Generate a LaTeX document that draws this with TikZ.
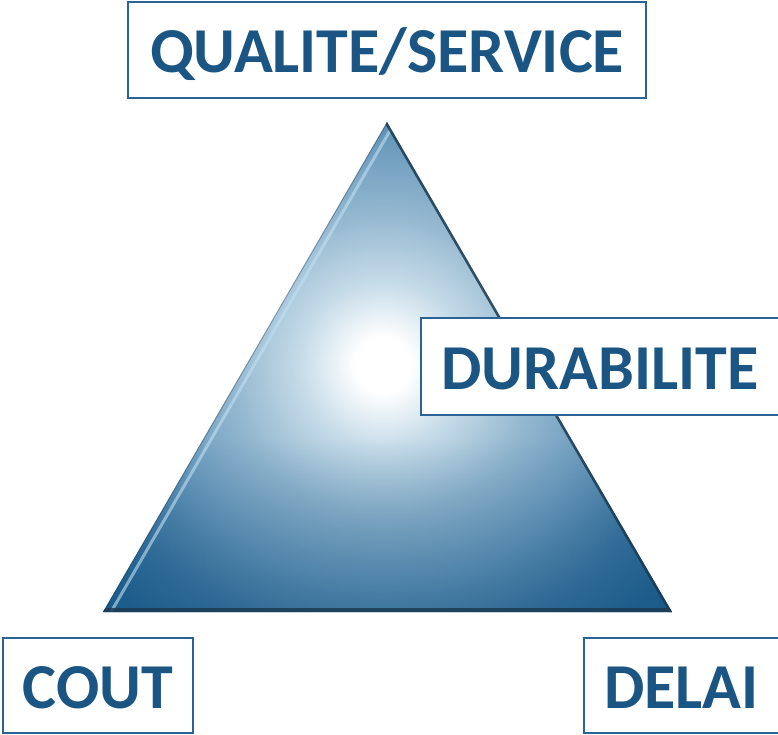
\documentclass[tikz,border=0pt]{standalone}
\usepackage{fontspec}
\setmainfont{Carlito}
\usetikzlibrary{positioning,fadings}
\definecolor{labelblue}{HTML}{1A5583}
\definecolor{frameblue}{HTML}{2B6494}
\definecolor{tridark}{HTML}{1A5885}
\definecolor{triedge}{HTML}{1B3A52}
\definecolor{trihigh}{HTML}{BFE0F5}
\pgfdeclareradialshading{triglow}{\pgfpoint{0bp}{0bp}}{color(0bp)=(white); color(1.8bp)=(white); color(5.5bp)=(rgb,255:red,197;green,219;blue,232); color(10bp)=(rgb,255:red,147;green,183;blue,207); color(14.5bp)=(rgb,255:red,108;green,155;blue,189); color(19bp)=(rgb,255:red,62;green,118;blue,160); color(23bp)=(rgb,255:red,31;green,96;blue,144); color(27bp)=(tridark); color(50bp)=(tridark)}
\tikzset{
  tagbox/.style={draw=frameblue, line width=2pt, fill=white, inner sep=0pt,
    text=labelblue, font=\fontsize{64}{64}\selectfont\bfseries,
    text height=46pt, text depth=0pt},
}
\begin{document}
\begin{tikzpicture}[x=1pt,y=-1pt]
\useasboundingbox (0,0) rectangle (778,735);
% Triangle corners
\coordinate (top) at (387,122);
\coordinate (left) at (103,612);
\coordinate (right) at (672,612);
\coordinate (glow) at (383,365);
% Triangle body
\begin{scope}
 \clip (top) -- (left) -- (right) -- cycle;
 \shade[shading=triglow] (glow) circle (380);
 \fill[tridark, path fading=north, fill opacity=0.45] (100,440) rectangle (675,615);
 % bevel edges
 \draw[triedge, opacity=0.35, line width=2pt] (left) -- (top);
 \draw[trihigh, opacity=0.6, line width=3pt] ([shift={(6,3.5)}]left) -- ([shift={(6,3.5)}]top);
 \draw[triedge, opacity=0.85, line width=5pt] (top) -- (right);
 \draw[triedge, opacity=0.85, line width=8pt] (right) -- (left);
 \draw[trihigh, opacity=0.3, line width=1.5pt] ([yshift=-6pt]left) -- ([yshift=-6pt]right);
\end{scope}
%
% Labels
\node[tagbox, minimum width=518pt, minimum height=96pt] (qualite) at (387,50) {QUALITE/SERVICE};
\node[tagbox, minimum width=358pt, minimum height=97pt] (durabilite) at (600,366.5) {DURABILITE};
\node[tagbox, minimum width=190pt, minimum height=95pt] (cout) at (98,685.5) {COUT};
\node[tagbox, minimum width=195pt, minimum height=95pt] (delai) at (681.5,685.5) {DELAI};
\end{tikzpicture}
\end{document}
